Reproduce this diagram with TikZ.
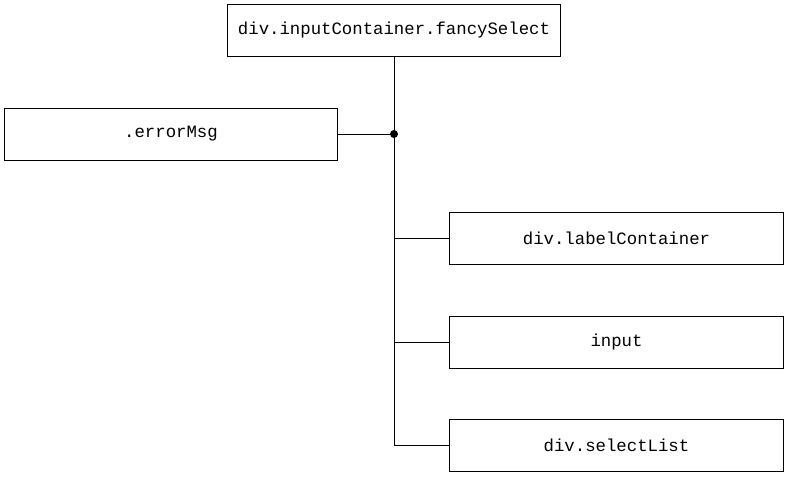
\documentclass[tikz,border=0pt]{standalone}
\usepackage{fontspec}
\setmonofont{Liberation Mono}
\usepackage{tikz}
\usetikzlibrary{positioning}

\begin{document}
\begin{tikzpicture}[x=0.75pt,y=-0.75pt,line width=0.75pt,
  box/.style={draw,rectangle,minimum width=250pt,minimum height=39pt,inner sep=0pt,font=\ttfamily\fontsize{13}{15}\selectfont}]
\useasboundingbox (0,0) rectangle (789,479);
\node[box] (top) at (394,30.5){div.inputContainer.fancySelect};
\node[box] (err) at (171,134){.errorMsg};
\node[box] (lab) at (616.5,238){div.labelContainer};
\node[box] (inp) at (616.5,342){input};
\node[box] (sel) at (616.5,445.5){div.selectList};
\coordinate (j) at (top.south |- err.east);
\draw (top) -- (j);
\draw (err) -- (j);
\fill (j) circle (4);
\foreach \to in {lab,inp,sel}
  \draw (j) |- (\to.west);
\end{tikzpicture}
\end{document}
